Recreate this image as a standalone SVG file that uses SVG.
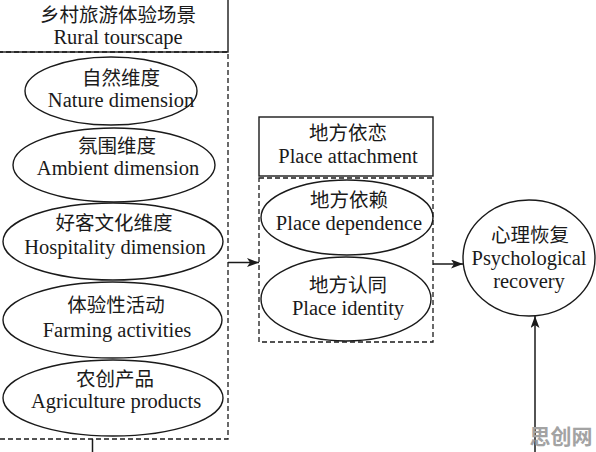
<svg xmlns="http://www.w3.org/2000/svg" width="596" height="452" viewBox="0 0 596 452">
<style>
.bg{fill:#ffffff}
.solid{fill:none;stroke:#1a1a1a;stroke-width:1.4}
.dash{fill:none;stroke:#1a1a1a;stroke-width:1.3;stroke-dasharray:5 3}
.ell{fill:none;stroke:#1a1a1a;stroke-width:1.4}
.line{fill:none;stroke:#1a1a1a;stroke-width:1.5}
text{font-family:"Liberation Serif","Noto Sans CJK SC",serif;font-size:20.5px;fill:#1a1a1a;text-anchor:middle}
.zh{font-family:"Noto Sans CJK SC","Liberation Serif",sans-serif;font-size:19.5px;font-weight:400}
.wm{font-family:"Noto Sans CJK SC",sans-serif;font-size:21px;font-weight:700;fill:#a3a3a3}
</style>
<defs>
<marker id="arr" viewBox="0 0 12 9" refX="12" refY="4.5" markerWidth="12" markerHeight="9" markerUnits="userSpaceOnUse" orient="auto">
<path d="M0,0 L12,4.5 L0,9 L3,4.5 z" fill="#1a1a1a"/>
</marker>
</defs>
<rect class="bg" x="0" y="0" width="596" height="452"/>

<g id="rural-tourscape">
<rect class="solid" x="-2" y="-2" width="230" height="54"/>
<text class="zh" x="118" y="22">乡村旅游体验场景</text>
<text x="118" y="44">Rural tourscape</text>
<rect class="dash" x="-2" y="52" width="230" height="387"/>
</g>

<g id="nature">
<ellipse class="ell" cx="111" cy="91" rx="86" ry="34"/>
<text class="zh" x="121" y="85">自然维度</text>
<text x="121" y="107">Nature dimension</text>
</g>
<g id="ambient">
<ellipse class="ell" cx="114" cy="165" rx="101" ry="37"/>
<text class="zh" x="117" y="153">氛围维度</text>
<text x="118" y="175">Ambient dimension</text>
</g>
<g id="hospitality">
<ellipse class="ell" cx="113" cy="241.5" rx="110" ry="38.5"/>
<text class="zh" x="114" y="230">好客文化维度</text>
<text x="115" y="254">Hospitality dimension</text>
</g>
<g id="farming">
<ellipse class="ell" cx="112.5" cy="320" rx="109.5" ry="38"/>
<text class="zh" x="116" y="312">体验性活动</text>
<text x="117" y="337">Farming activities</text>
</g>
<g id="agriculture">
<ellipse class="ell" cx="113" cy="398" rx="110" ry="38"/>
<text class="zh" x="115" y="386">农创产品</text>
<text x="116" y="408">Agriculture products</text>
</g>

<g id="place-attachment">
<rect class="solid" x="259" y="117" width="174" height="59"/>
<text class="zh" x="348" y="140">地方依恋</text>
<text x="348" y="163">Place attachment</text>
<rect class="dash" x="259" y="178" width="174" height="164"/>
</g>
<g id="place-dependence">
<ellipse class="ell" cx="347" cy="217.5" rx="86" ry="37.5"/>
<text class="zh" x="349" y="207">地方依赖</text>
<text x="349" y="230">Place dependence</text>
</g>
<g id="place-identity">
<ellipse class="ell" cx="346" cy="299" rx="85" ry="42"/>
<text class="zh" x="348" y="292">地方认同</text>
<text x="348" y="315">Place identity</text>
</g>

<g id="psychological-recovery">
<ellipse class="ell" cx="529" cy="258" rx="66" ry="58"/>
<text class="zh" x="530" y="242">心理恢复</text>
<text x="529" y="265">Psychological</text>
<text x="529" y="288">recovery</text>
</g>

<g id="connectors">
<line class="line" x1="228" y1="262.5" x2="259" y2="262.5" marker-end="url(#arr)"/>
<line class="line" x1="433" y1="264" x2="463" y2="264" marker-end="url(#arr)"/>
<line class="line" x1="535" y1="460" x2="535" y2="316" marker-end="url(#arr)"/>
<line class="line" x1="92.5" y1="439" x2="92.5" y2="460"/>
</g>

<text class="wm" x="561" y="444">思创网</text>
</svg>
